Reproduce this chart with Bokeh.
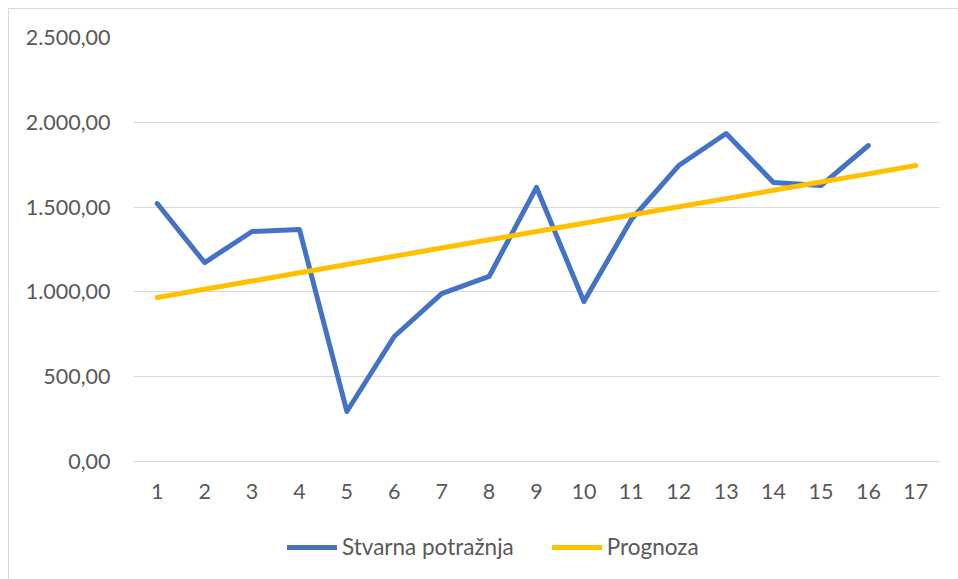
from bokeh.plotting import figure
from bokeh.layouts import column
from bokeh.models import Range1d, FixedTicker, Legend, LegendItem
from bokeh.embed import file_html
from bokeh.resources import INLINE

periods = list(range(1, 18))
actual_periods = list(range(1, 17))
actual = [1521, 1173, 1356, 1368, 295, 737, 990, 1091, 1616, 943,
          1427, 1745, 1934, 1645, 1627, 1863]
forecast = [967, 1016, 1064, 1113, 1162, 1210, 1259, 1307, 1356, 1405,
            1453, 1502, 1550, 1599, 1648, 1696, 1745]
y_ticks = [0, 500, 1000, 1500, 2000, 2500]
y_tick_labels = ["0,00", "500,00", "1.000,00", "1.500,00", "2.000,00", "2.500,00"]
series_names = ["Stvarna potražnja", "Prognoza"]

FONT = "Lato"
TXT = "#595959"
GRID = "#D9D9D9"
BLUE = "#4472C4"
GOLD = "#FFC000"

p = figure(width=942, height=515, output_backend="svg", toolbar_location=None,
           x_range=Range1d(0.5, 17.5), y_range=Range1d(0, 2500),
           min_border_left=133, min_border_right=3, min_border_top=37,
           min_border_bottom=54)
p.outline_line_color = None
p.xgrid.grid_line_color = None
p.ygrid.grid_line_color = GRID
p.ygrid.grid_line_width = 1

p.yaxis.ticker = FixedTicker(ticks=y_ticks)
p.yaxis.major_label_overrides = {t: l for t, l in zip(y_ticks, y_tick_labels)}
p.yaxis.axis_line_color = None
p.yaxis.major_tick_line_color = None
p.yaxis.minor_tick_line_color = None
p.yaxis.major_label_standoff = 17

p.xaxis.ticker = FixedTicker(ticks=periods)
p.xaxis.major_label_overrides = {t: str(t) for t in periods}
p.xaxis.axis_line_color = GRID
p.xaxis.major_tick_line_color = None
p.xaxis.minor_tick_line_color = None
p.xaxis.major_label_standoff = 16

for ax in (p.xaxis, p.yaxis):
    ax.major_label_text_font = FONT
    ax.major_label_text_font_size = "21.5px"
    ax.major_label_text_color = TXT

p.line(actual_periods, actual, line_color=BLUE, line_width=5,
       line_cap="round", line_join="round")
p.line(periods, forecast, line_color=GOLD, line_width=5,
       line_cap="round", line_join="round")

# legend strip below the chart (frame is aligned with the chart's frame)
lg = figure(width=942, height=48, output_backend="svg", toolbar_location=None,
            x_range=Range1d(0, 1), y_range=Range1d(0, 1),
            x_axis_type=None, y_axis_type=None,
            min_border_left=0, min_border_right=0, min_border_top=0,
            min_border_bottom=0)
lg.outline_line_color = None
lg.grid.visible = False
# key renderers hold out-of-view points so that only their legend keys show
k1 = lg.line([5, 6], [5, 6], line_color=BLUE, line_width=5, line_cap="round")
k2 = lg.line([5, 6], [5, 6], line_color=GOLD, line_width=5, line_cap="round")
legend = Legend(items=[LegendItem(label=series_names[0], renderers=[k1]),
                       LegendItem(label=series_names[1], renderers=[k2])],
                orientation="horizontal", location=(154, 3),
                label_text_font=FONT, label_text_font_size="22.5px",
                label_text_color=TXT, glyph_width=50, label_standoff=5,
                spacing=38, padding=0, margin=0,
                background_fill_alpha=0, border_line_color=None)
lg.add_layout(legend)

layout = column(p, lg, spacing=0)

html = file_html(layout, INLINE)
html = html.replace("</head>",
    "<style>body::after{content:'';position:fixed;left:8px;top:8px;right:0;bottom:0;"
    "border-left:1px solid #D9D9D9;border-top:1px solid #D9D9D9;pointer-events:none;}</style></head>", 1)
open("out.html", "w").write(html)
